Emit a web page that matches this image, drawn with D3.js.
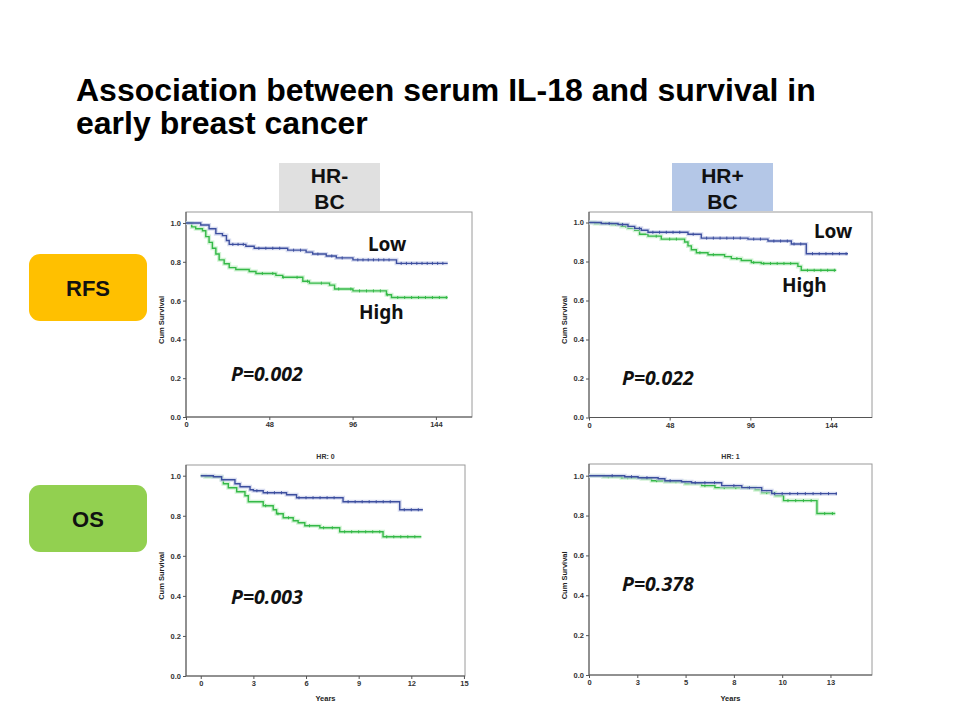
<!DOCTYPE html>
<html><head><meta charset="utf-8">
<script src="https://cdn.jsdelivr.net/npm/d3@7"></script>
<style>body{margin:0;background:#fff}svg{display:block}</style>
</head><body>
<svg id="chart" width="960" height="720"></svg>
<script>
// ---------- DATA ----------
const titleLines = ["Association between serum IL-18 and survival in", "early breast cancer"];
const columnLabels = [["HR-", "BC"], ["HR+", "BC"]];
const rowLabels = ["RFS", "OS"];
const seriesNames = ["Low", "High"];
const pValues = ["P=0.002", "P=0.022", "P=0.003", "P=0.378"];
const panelTitles = ["", "", "HR: 0", "HR: 1"];

// survival steps: [time, survival after time]
const rfsNegLow  = [[0,1],[8.5,0.99],[13.3,0.97],[17.2,0.945],[21,0.935],[23.3,0.91],[24.9,0.89],[34.5,0.88],[39.3,0.87],[58.6,0.86],[69.2,0.85],[73,0.84],[80.8,0.83],[86.6,0.82],[96.2,0.81],[121.3,0.792],[150.8,0.792]];
const rfsNegHigh = [[0,1],[3.3,0.98],[5.6,0.97],[9.5,0.96],[11.4,0.93],[13.3,0.9],[15.2,0.87],[17.2,0.84],[19.1,0.81],[22,0.79],[24.9,0.77],[28.7,0.76],[36.4,0.75],[40.3,0.74],[51.8,0.73],[55.7,0.72],[67.3,0.70],[71.1,0.69],[82.7,0.68],[85.6,0.66],[96.2,0.65],[115.5,0.63],[118.4,0.616],[150.8,0.616]];
const rfsPosLow  = [[0,1],[7.3,0.995],[17.3,0.99],[23.2,0.98],[27.2,0.97],[31.1,0.96],[35.1,0.95],[58.9,0.94],[66.8,0.92],[94.6,0.915],[106.5,0.905],[120.4,0.89],[129.3,0.84],[154.1,0.84]];
const rfsPosHigh = [[0,1],[3.4,0.995],[13.3,0.99],[19.2,0.98],[23.2,0.97],[27.2,0.96],[30.1,0.94],[35.1,0.93],[43,0.915],[56.9,0.90],[58.9,0.88],[60.9,0.86],[63.9,0.845],[70.8,0.835],[80.7,0.825],[84.7,0.815],[90.6,0.805],[96.6,0.795],[102.5,0.79],[124.3,0.775],[126.3,0.755],[147.1,0.755]];
const osNegLow   = [[0,1],[0.72,0.995],[1.19,0.98],[1.95,0.96],[2.24,0.945],[2.81,0.93],[3.0,0.925],[3.56,0.915],[4.89,0.905],[5.46,0.89],[8.11,0.87],[11.34,0.83],[12.66,0.83]];
const osNegHigh  = [[0,1],[0.25,0.995],[1.19,0.98],[1.29,0.96],[1.57,0.94],[2.05,0.92],[2.52,0.90],[2.71,0.87],[3.56,0.85],[4.13,0.83],[4.32,0.81],[4.70,0.79],[5.27,0.775],[5.55,0.765],[5.93,0.75],[6.79,0.74],[7.92,0.72],[10.39,0.695],[12.57,0.695]];
const osPosLow   = [[0,1],[1.85,0.995],[2.54,0.99],[3.58,0.985],[3.93,0.975],[4.79,0.97],[5.31,0.965],[6.87,0.95],[7.91,0.94],[8.94,0.925],[9.46,0.91],[12.84,0.91]];
const osPosHigh  = [[0,1],[0.73,0.995],[1.68,0.99],[2.72,0.985],[3.24,0.975],[3.93,0.97],[4.97,0.96],[5.83,0.95],[6.52,0.94],[8.60,0.93],[8.94,0.915],[9.64,0.90],[10.07,0.875],[11.80,0.81],[12.75,0.81]];

// censoring times
const rfsNegLowCens  = [27,30,33,42,46,50,54,62,66,76,84,90,99,102,105,108,111,114,117,124,127,130,133,136,139,142,145,148];
const rfsNegHighCens = [44,50,56,64,70,78,88,95,100,104,108,112,116,122,126,130,134,138,142,146,150];
const rfsPosLowCens  = [12,20,30,38,42,46,50,54,62,70,74,78,82,86,90,98,102,110,114,118,122,126,133,137,141,145,149,153];
const rfsPosHighCens = [10,16,22,40,48,52,66,74,88,98,104,108,112,116,120,130,134,138,142,146];
const osNegLowCens   = [3.2,3.8,4.2,4.6,5.6,6,6.4,6.8,7.2,7.6,8.4,8.8,9.2,9.6,10,10.4,10.8,11.6,12,12.4];
const osNegHighCens  = [3.7,4.4,5,6.2,7,7.5,8.2,8.6,9,9.4,9.8,10.2,10.6,11,11.4,11.8,12.2];
const osPosLowCens   = [1.2,2.2,3,4.2,5.5,6,6.5,7.5,8.3,9.6,10,10.4,10.8,11.2,11.6,12,12.4,12.8];
const osPosHighCens  = [1,2,3.5,4.5,6,7,7.6,8.2,9.2,10.3,10.7,11.1,11.5,12.2,12.6];

// axis ticks
const yTicks = [0, 0.2, 0.4, 0.6, 0.8, 1.0];
const rfsXTicks = [0, 48, 96, 144];
const osNegXTicks = [0, 3, 6, 9, 12, 15];
const osPosXTicks = [0, 2.5, 5, 7.5, 10, 12.5];
const osPosXTickLabels = ["0", "3", "5", "8", "10", "13"];

// ---------- DRAW ----------
const svg = d3.select("#chart");
const BLUE = "#3d4f9f", GREEN = "#35b948";

// title
svg.append("text")
  .style("font", "bold 32px 'Liberation Sans', Arial, sans-serif").attr("fill", "#000")
  .selectAll("tspan").data(titleLines).join("tspan")
  .attr("x", 76).attr("y", (d, i) => i ? 134 : 101).text(d => d);

// column labels
const colBoxes = [{x: 279, fill: "#e0e0e0"}, {x: 672, fill: "#b4c7e7"}];
colBoxes.forEach((b, i) => {
  svg.append("rect").attr("x", b.x).attr("y", 163).attr("width", 101).attr("height", 48).attr("fill", b.fill);
  svg.append("text").attr("text-anchor", "middle")
    .style("font", "bold 21px 'Liberation Sans', Arial, sans-serif").attr("fill", "#111")
    .selectAll("tspan").data(columnLabels[i]).join("tspan")
    .attr("x", b.x + 50.5).attr("y", (d, j) => j ? 208.5 : 183).text(d => d);
});

// row labels
const rowBoxes = [{y: 254, fill: "#ffc000"}, {y: 485, fill: "#92d050"}];
rowBoxes.forEach((b, i) => {
  svg.append("rect").attr("x", 29).attr("y", b.y).attr("width", 118).attr("height", 67)
    .attr("rx", 11).attr("fill", b.fill);
  svg.append("text").attr("x", 88).attr("y", b.y + 42).attr("text-anchor", "middle")
    .style("font", "bold 22px 'Liberation Sans', Arial, sans-serif").attr("fill", "#111").text(rowLabels[i]);
});

function stepAt(data, t) {
  let s = data[0][1];
  for (const d of data) { if (d[0] <= t) s = d[1]; }
  return s;
}

const panels = [
  {x0: 186, x1: 472, yTop: 212, y1: 223, y0: 417, dom: [0, 164.8], ticks: rfsXTicks, labels: null, low: rfsNegLow, high: rfsNegHigh, lc: rfsNegLowCens, hc: rfsNegHighCens, xlabel: "",
   lowLbl: [368, 251], highLbl: [359, 319], p: [231, 381]},
  {x0: 589, x1: 872, yTop: 212, y1: 222.5, y0: 417.5, dom: [0, 168.4], ticks: rfsXTicks, labels: null, low: rfsPosLow, high: rfsPosHigh, lc: rfsPosLowCens, hc: rfsPosHighCens, xlabel: "",
   lowLbl: [814, 238], highLbl: [782, 292], p: [622, 385]},
  {x0: 186, x1: 465, yTop: 465, y1: 475.7, y0: 676, dom: [-0.84, 15.06], ticks: osNegXTicks, labels: null, low: osNegLow, high: osNegHigh, lc: osNegLowCens, hc: osNegHighCens, xlabel: "Years",
   lowLbl: null, highLbl: null, p: [231, 604]},
  {x0: 589, x1: 872, yTop: 464, y1: 475.7, y0: 675, dom: [0, 14.65], ticks: osPosXTicks, labels: osPosXTickLabels, low: osPosLow, high: osPosHigh, lc: osPosLowCens, hc: osPosHighCens, xlabel: "Years",
   lowLbl: null, highLbl: null, p: [622, 591]}
];

const smallFont = "bold 7.5px 'Liberation Sans', Arial, sans-serif";

panels.forEach((P, i) => {
  const x = d3.scaleLinear().domain(P.dom).range([P.x0, P.x1]);
  const y = d3.scaleLinear().domain([0, 1]).range([P.y0, P.y1]);
  const g = svg.append("g");
  // frame
  g.append("rect").attr("x", P.x0).attr("y", P.yTop).attr("width", P.x1 - P.x0).attr("height", P.y0 - P.yTop)
    .attr("fill", "#fff").attr("stroke", "#9a9a9a").attr("stroke-width", 1);
  // axes
  const yAxis = d3.axisLeft(y).tickValues(yTicks).tickFormat(d3.format(".1f")).tickSize(3).tickPadding(2);
  const ya = g.append("g").attr("transform", `translate(${P.x0},0)`).call(yAxis);
  const xAxis = d3.axisBottom(x).tickValues(P.ticks).tickSize(3).tickPadding(2)
    .tickFormat((d, k) => P.labels ? P.labels[k] : d);
  const xa = g.append("g").attr("transform", `translate(0,${P.y0})`).call(xAxis);
  [ya, xa].forEach(a => {
    a.select(".domain").attr("stroke", "#555");
    a.selectAll(".tick line").attr("stroke", "#555");
    a.selectAll("text").style("font", smallFont).attr("fill", "#333");
  });
  xa.select(".domain").attr("d", `M${P.x0},0H${P.x1}`);
  ya.select(".domain").attr("d", `M0,${P.y0}V${P.yTop}`);
  // y label
  g.append("text").attr("transform", `translate(${P.x0 - 22},${(P.y0 + P.y1) / 2}) rotate(-90)`)
    .attr("text-anchor", "middle").style("font", "bold 7.5px 'Liberation Sans', Arial, sans-serif")
    .attr("fill", "#222").text("Cum Survival");
  if (P.xlabel) {
    g.append("text").attr("x", (P.x0 + P.x1) / 2).attr("y", 701).attr("text-anchor", "middle")
      .style("font", "bold 7.5px 'Liberation Sans', Arial, sans-serif").attr("fill", "#222").text(P.xlabel);
  }
  if (panelTitles[i]) {
    g.append("text").attr("x", (P.x0 + P.x1) / 2).attr("y", 459).attr("text-anchor", "middle")
      .style("font", "bold 7px 'Liberation Sans', Arial, sans-serif").attr("fill", "#333").text(panelTitles[i]);
  }
  // curves
  const line = d3.line().x(d => x(d[0])).y(d => y(d[1])).curve(d3.curveStepAfter);
  [[P.high, P.hc, GREEN, "#bfeec3"], [P.low, P.lc, BLUE, "#c9cfea"]].forEach(([data, cens, col, halo]) => {
    g.append("path").attr("d", line(data)).attr("fill", "none").attr("stroke", halo).attr("stroke-width", 4).attr("opacity", 0.7);
    g.append("path").attr("d", line(data)).attr("fill", "none").attr("stroke", col).attr("stroke-width", 1.4);
    g.selectAll(null).data(cens).join("line")
      .attr("x1", d => x(d)).attr("x2", d => x(d))
      .attr("y1", d => y(stepAt(data, d)) - 1.5).attr("y2", d => y(stepAt(data, d)) + 1.5)
      .attr("stroke", col).attr("stroke-width", 1);
  });
  // annotations
  const lblFont = "bold 19px 'Noto Sans', sans-serif";
  if (P.lowLbl) g.append("text").attr("x", P.lowLbl[0]).attr("y", P.lowLbl[1]).style("font", lblFont).attr("fill", "#111").text(seriesNames[0]);
  if (P.highLbl) g.append("text").attr("x", P.highLbl[0]).attr("y", P.highLbl[1]).style("font", lblFont).attr("fill", "#111").text(seriesNames[1]);
  g.append("text").attr("x", P.p[0]).attr("y", P.p[1]).style("font", "italic bold 19.5px 'Noto Sans', sans-serif")
    .attr("fill", "#111").text(pValues[i]);
});
</script>
</body></html>
